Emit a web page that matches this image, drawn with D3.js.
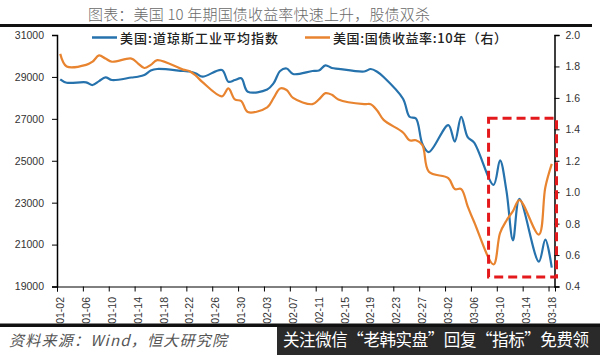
<!DOCTYPE html>
<html><head><meta charset="utf-8">
<script src="https://cdn.jsdelivr.net/npm/d3@7"></script>
<style>
html,body{margin:0;padding:0;background:#fff;}
svg{display:block;}
</style></head>
<body>
<svg id="c" width="600" height="355"></svg>
<script>
// ---- data ----
const dates = ["01-02","01-03","01-06","01-07","01-08","01-09","01-10","01-13","01-14","01-15","01-16","01-17","01-21","01-22","01-23","01-24","01-27","01-28","01-29","01-30","01-31","02-03","02-04","02-05","02-06","02-07","02-10","02-11","02-12","02-13","02-14","02-18","02-19","02-20","02-21","02-24","02-25","02-26","02-27","02-28","03-02","03-03","03-04","03-05","03-06","03-09","03-10","03-11","03-12","03-13","03-16","03-17","03-18"];
const dowValues = [28885,28723,28742,28613,28800,28981,28852,28971,29010,29091,29305,29377,29282,29258,29162,29010,29330,28771,28850,28933,28294,28400,28700,29282,29401,29138,29282,29305,29554,29425,29387,29258,29377,29248,28996,27960,27100,27015,25797,25415,26704,25917,27091,26122,25864,23850,25019,23553,21200,23186,20189,21235,19900];
const yieldValues = [1.88,1.80,1.81,1.83,1.87,1.85,1.83,1.85,1.82,1.79,1.81,1.84,1.78,1.77,1.74,1.70,1.61,1.66,1.59,1.58,1.51,1.54,1.60,1.66,1.65,1.60,1.56,1.59,1.63,1.62,1.59,1.56,1.56,1.52,1.46,1.38,1.33,1.33,1.30,1.13,1.09,1.02,1.02,0.91,0.81,0.54,0.74,0.82,0.88,0.95,0.73,1.03,1.18];
const xTickLabels = ["01-02","01-06","01-10","01-14","01-18","01-22","01-26","01-30","02-03","02-07","02-11","02-15","02-19","02-23","02-27","03-02","03-06","03-10","03-14","03-18"];
const leftTicks = [19000,21000,23000,25000,27000,29000,31000];
const rightTicks = [0.4,0.6,0.8,1.0,1.2,1.4,1.6,1.8,2.0];
const seriesNames = ["美国:道琼斯工业平均指数","美国:国债收益率:10年（右）"];
const titleText = "图表：美国 10 年期国债收益率快速上升，股债双杀";
const sourceText = "资料来源：Wind，恒大研究院";
const watermarkText = "关注微信“老韩实盘”回复“指标”免费领";
const highlightRange = {from:"03-09", to:"03-18", lo:0.46, hi:1.47};

// ---- setup ----
const svg = d3.select("#c");
const parse = s => new Date(2020, +s.slice(0,2)-1, +s.slice(3,5));
const HALF = 12*3600*1000;
const plot = {l:57, r:555, t:35, b:286.5};
const x = d3.scaleTime()
  .domain([new Date(parse(dates[0]).getTime()-HALF), new Date(parse(dates[dates.length-1]).getTime()+HALF)])
  .range([plot.l, plot.r]);
const yL = d3.scaleLinear().domain([19000,31000]).range([plot.b, plot.t]);
const yR = d3.scaleLinear().domain([0.4,2.0]).range([plot.b, plot.t]);
const numFont = "'Liberation Sans', Arial, sans-serif";
const cjk = "'Noto Sans CJK SC', 'Noto Sans', sans-serif";

// title + rules
svg.append("text").attr("x",88).attr("y",20).attr("font-family",cjk).attr("font-weight",300)
  .attr("font-size",15).attr("fill","#6a6a6a").attr("textLength",342).attr("lengthAdjust","spacing").text(titleText);
svg.append("rect").attr("x",0).attr("y",24).attr("width",592).attr("height",3).attr("fill","#111");
svg.append("rect").attr("x",0).attr("y",323.5).attr("width",600).attr("height",3.5).attr("fill","#111");

// lines
const blue = "#2672ad", orange = "#e8832f";
const rows = dates.map((d,i)=>({d:parse(d), v:dowValues[i], y:yieldValues[i]}));
svg.append("path").datum(rows).attr("fill","none").attr("stroke",blue).attr("stroke-width",2.2)
  .attr("d", d3.line().x(r=>x(r.d)).y(r=>yL(r.v)).curve(d3.curveCatmullRom.alpha(0.5)));
svg.append("path").datum(rows).attr("fill","none").attr("stroke",orange).attr("stroke-width",2.2)
  .attr("d", d3.line().x(r=>x(r.d)).y(r=>yR(r.y)).curve(d3.curveCatmullRom.alpha(0.5)));

// axes
const gL = svg.append("g").attr("transform",`translate(${plot.l},0)`)
  .call(d3.axisLeft(yL).tickValues(leftTicks).tickSize(5).tickPadding(8).tickFormat(d3.format("d")));
const gR = svg.append("g").attr("transform",`translate(${plot.r-0.5},0)`)
  .call(d3.axisRight(yR).tickValues(rightTicks).tickSize(5).tickPadding(6).tickFormat(d3.format(".1f")));
const tickDates = xTickLabels.map(s=>new Date(parse(s).getTime()-HALF));
const gB = svg.append("g").attr("transform",`translate(0,${plot.b})`)
  .call(d3.axisBottom(x).tickValues(tickDates).tickSize(5).tickFormat(""));
[gL,gR,gB].forEach(g=>{
  g.select(".domain").attr("stroke","#000").attr("stroke-width",1.5);
  g.selectAll(".tick line").attr("stroke","#000").attr("stroke-width",1);
  g.selectAll(".tick text").attr("font-family",numFont).attr("font-size",10.5).attr("fill","#333");
});
gB.select(".domain").attr("stroke-width",1);
svg.append("g").selectAll("text").data(xTickLabels).join("text")
  .attr("transform", s=>`translate(${x(parse(s))+3.8},297) rotate(-90)`)
  .attr("text-anchor","end").attr("font-family",numFont).attr("font-size",10.5).attr("fill","#333")
  .text(s=>s);

// legend
const leg = [{x:92,c:blue,t:seriesNames[0],w:158},{x:305,c:orange,t:seriesNames[1],w:174}];
leg.forEach(l=>{
  svg.append("line").attr("x1",l.x).attr("x2",l.x+25).attr("y1",37.5).attr("y2",37.5).attr("stroke",l.c).attr("stroke-width",2.5);
  svg.append("text").attr("x",l.x+28).attr("y",42.5).attr("font-family",cjk).attr("font-weight",500)
    .attr("font-size",13).attr("fill","#222").attr("textLength",l.w).attr("lengthAdjust","spacing").text(l.t);
});

// highlight box
const hx0 = x(parse(highlightRange.from)) - 5, hx1 = plot.r + 1.5;
svg.append("rect").attr("x",hx0).attr("y",yR(highlightRange.hi)).attr("width",hx1-hx0)
  .attr("height",yR(highlightRange.lo)-yR(highlightRange.hi))
  .attr("fill","none").attr("stroke","#e3191c").attr("stroke-width",3).attr("stroke-dasharray","9,5");

// source
svg.append("text").attr("x",9).attr("y",346).attr("font-family",cjk).attr("font-style","italic")
  .attr("font-size",15).attr("fill","#555").attr("textLength",218).attr("lengthAdjust","spacing").text(sourceText);

// watermark bar
svg.append("rect").attr("x",277).attr("y",327).attr("width",323).attr("height",28).attr("fill","#2a2a2a");
svg.append("text").attr("x",283).attr("y",346).attr("font-family",cjk).attr("font-size",16.5)
  .attr("fill","#fff").attr("textLength",306).attr("lengthAdjust","spacing").text(watermarkText);
</script>
</body></html>
